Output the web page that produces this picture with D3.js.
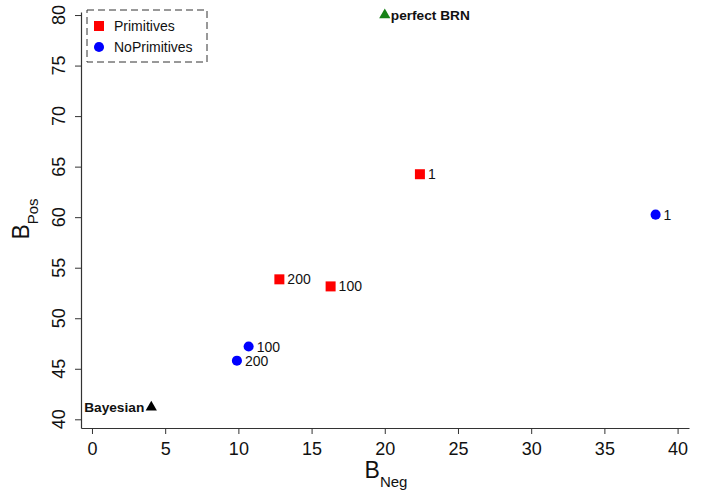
<!DOCTYPE html>
<html>
<head>
<meta charset="utf-8">
<script src="https://cdn.jsdelivr.net/npm/d3@7"></script>
<style>
  body { margin: 0; background: #fff; }
  svg { font-family: "Liberation Sans", Arial, Helvetica, sans-serif; }
</style>
</head>
<body>
<div id="chart"></div>
<script>
// data
const primNeg = [22.4, 16.3, 12.8];
const primPos = [64.25, 53.15, 53.85];
const primLabels = ['1', '100', '200'];

const noPrimNeg = [38.5, 10.7, 9.9];
const noPrimPos = [60.25, 47.2, 45.8];
const noPrimLabels = ['1', '100', '200'];

const refNames = ['Bayesian', 'perfect BRN'];
const refNeg = [4.05, 20.0];
const refPos = [41.2, 80.0];

const xTicks = [0, 5, 10, 15, 20, 25, 30, 35, 40];
const yTicks = [40, 45, 50, 55, 60, 65, 70, 75, 80];

const width = 706;
const height = 495;

const x = d3.scaleLinear().domain([-0.75, 40.78]).range([81, 689]);
const y = d3.scaleLinear().domain([39.14, 80.3]).range([428, 12]);

const svg = d3.select('#chart').append('svg')
  .attr('width', width)
  .attr('height', height);

// x axis
const xAxis = svg.append('g')
  .attr('transform', `translate(0,${y.range()[0]})`)
  .call(d3.axisBottom(x).tickValues(xTicks).tickSize(6).tickSizeOuter(0).tickPadding(8));
xAxis.select('.domain').attr('stroke', '#333').attr('stroke-width', 1.2);
xAxis.selectAll('.tick line').attr('stroke', '#333');
xAxis.selectAll('.tick text')
  .attr('font-size', 18)
  .attr('fill', '#111')
  .attr('font-family', null);

// y axis, labels rotated like base R
const yAxis = svg.append('g')
  .attr('transform', `translate(${x.range()[0]},0)`)
  .call(d3.axisLeft(y).tickValues(yTicks).tickSize(6).tickSizeOuter(0).tickFormat(''));
yAxis.select('.domain').attr('stroke', '#333').attr('stroke-width', 1.2);
yAxis.selectAll('.tick line').attr('stroke', '#333');

svg.append('g')
  .selectAll('text')
  .data(yTicks)
  .join('text')
  .attr('transform', d => `translate(65,${y(d)}) rotate(-90)`)
  .attr('text-anchor', 'middle')
  .attr('font-size', 18)
  .attr('fill', '#111')
  .text(d => d);

// axis titles
const xt = svg.append('text')
  .attr('x', 386)
  .attr('y', 478)
  .attr('text-anchor', 'middle')
  .attr('fill', '#111');
xt.append('tspan').attr('font-size', 23).text('B');
xt.append('tspan').attr('font-size', 15).attr('dy', 9).text('Neg');

const yt = svg.append('text')
  .attr('transform', 'translate(29,219) rotate(-90)')
  .attr('text-anchor', 'middle')
  .attr('fill', '#111');
yt.append('tspan').attr('font-size', 23).text('B');
yt.append('tspan').attr('font-size', 15).attr('dy', 9).text('Pos');

// points
const prim = primNeg.map((d, i) => ({ x: d, y: primPos[i], label: primLabels[i] }));
const noPrim = noPrimNeg.map((d, i) => ({ x: d, y: noPrimPos[i], label: noPrimLabels[i] }));
const refs = refNames.map((d, i) => ({ x: refNeg[i], y: refPos[i], label: d }));

const square = d3.symbol().type(d3.symbolSquare).size(100);
const circle = d3.symbol().type(d3.symbolCircle).size(80);
const triangle = d3.symbol().type(d3.symbolTriangle).size(55);

function pointLabels(data) {
  svg.append('g')
    .selectAll('text')
    .data(data)
    .join('text')
    .attr('x', d => x(d.x) + 8)
    .attr('y', d => y(d.y))
    .attr('dy', '0.36em')
    .attr('font-size', 14)
    .attr('fill', '#111')
    .text(d => d.label);
}

svg.append('g')
  .selectAll('path')
  .data(prim)
  .join('path')
  .attr('d', square)
  .attr('transform', d => `translate(${x(d.x)},${y(d.y)})`)
  .attr('fill', '#ff0000');
pointLabels(prim);

svg.append('g')
  .selectAll('path')
  .data(noPrim)
  .join('path')
  .attr('d', circle)
  .attr('transform', d => `translate(${x(d.x)},${y(d.y)})`)
  .attr('fill', '#0000ff');
pointLabels(noPrim);

// reference points: Bayesian label on the left, perfect BRN on the right
svg.append('g')
  .selectAll('path')
  .data(refs)
  .join('path')
  .attr('d', triangle)
  .attr('transform', d => `translate(${x(d.x)},${y(d.y)})`)
  .attr('fill', (d, i) => i === 0 ? '#000' : '#178217');

svg.append('g')
  .selectAll('text')
  .data(refs)
  .join('text')
  .attr('x', (d, i) => i === 0 ? x(d.x) - 7 : x(d.x) + 6)
  .attr('y', d => y(d.y))
  .attr('dy', '0.36em')
  .attr('text-anchor', (d, i) => i === 0 ? 'end' : 'start')
  .attr('font-size', 13.7)
  .attr('font-weight', 'bold')
  .attr('fill', '#111')
  .text(d => d.label);

// legend
const legend = svg.append('g');
legend.append('rect')
  .attr('x', 87).attr('y', 10)
  .attr('width', 120).attr('height', 52)
  .attr('fill', 'none')
  .attr('stroke', '#333')
  .attr('stroke-dasharray', '7,4');

const legendItems = [
  { name: 'Primitives', sym: square, color: '#ff0000' },
  { name: 'NoPrimitives', sym: circle, color: '#0000ff' }
];
legendItems.forEach((d, i) => {
  const ly = 26 + i * 21;
  legend.append('path')
    .attr('d', d.sym)
    .attr('transform', `translate(99,${ly})`)
    .attr('fill', d.color);
  legend.append('text')
    .attr('x', 114)
    .attr('y', ly)
    .attr('dy', '0.36em')
    .attr('font-size', 14)
    .attr('fill', '#111')
    .text(d.name);
});
</script>
</body>
</html>
